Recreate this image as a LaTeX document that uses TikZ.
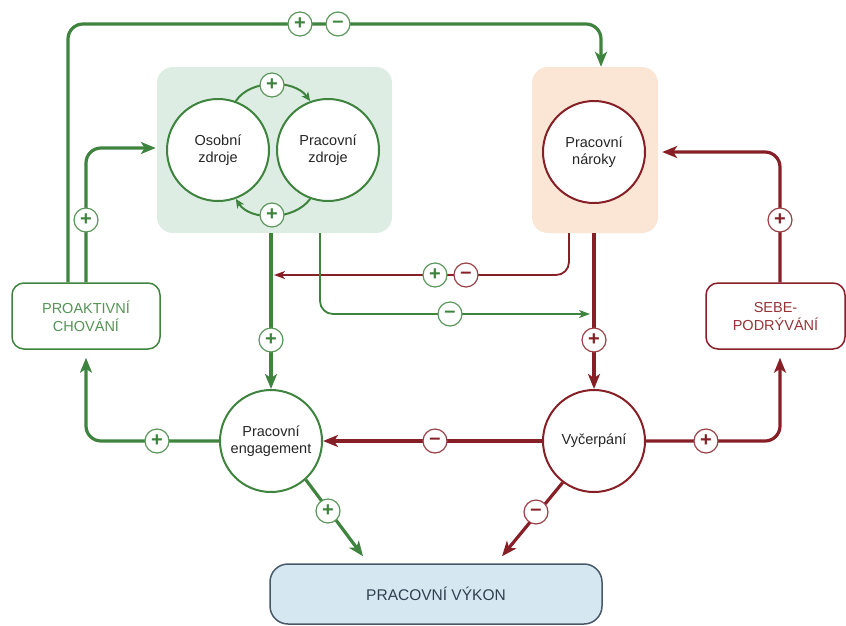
\documentclass[tikz,border=0pt]{standalone}
\usepackage{fontspec}
\setmainfont{Liberation Sans}
\usetikzlibrary{arrows.meta,calc}
\definecolor{gr}{RGB}{62,132,62}
\definecolor{grt}{RGB}{84,148,84}
\definecolor{rd}{RGB}{135,32,38}
\definecolor{rdt}{RGB}{150,52,56}
\definecolor{gfill}{RGB}{221,237,227}
\definecolor{ofill}{RGB}{251,229,212}
\definecolor{bfill}{RGB}{213,232,242}
\definecolor{bdraw}{RGB}{72,88,104}
\definecolor{btext}{RGB}{48,62,78}
\begin{document}
\begin{tikzpicture}[x=1pt,y=-1pt,
  circ/.style={circle, draw, fill=white, minimum size=102pt, inner sep=0pt, line width=2pt,
    align=center, font=\fontsize{14.5}{17.5}\selectfont, text=black!85},
  sgn/.style={circle, draw=#1!85, text=#1, fill=white, minimum size=24pt, inner sep=0pt, line width=1.2pt,
    font=\fontsize{20}{20}\selectfont\bfseries},
  lbox/.style={rectangle, rounded corners=12pt, draw, fill=white, line width=1.5pt,
    align=center, font=\fontsize{14.5}{18}\selectfont},
  thickline/.style={line width=3.2pt, rounded corners=15pt},
  thinline/.style={line width=1.8pt, rounded corners=13pt},
  bigtip/.style={-{Stealth[length=15pt,width=12pt,inset=4pt]}},
  smalltip/.style={-{Stealth[length=11pt,width=8pt,inset=3pt]}},
  arctip/.style={-{Stealth[length=9pt,width=8pt,inset=2.5pt]}}
]
\useasboundingbox (0,0) rectangle (846,625);

% boxes
\node[rectangle, rounded corners=16pt, fill=gfill, minimum width=235pt, minimum height=166pt] (rbox) at (274.5,150) {};
\node[rectangle, rounded corners=16pt, fill=ofill, minimum width=126pt, minimum height=166pt] (dbox) at (595,150) {};
\node[circ, draw=gr] (osz) at (218,150) {Osobní\\zdroje};
\node[circ, draw=gr] (pz) at (328,150) {Pracovní\\zdroje};
\node[circ, draw=rd] (pn) at (594,152) {Pracovní\\nároky};
\node[circ, draw=gr] (eng) at (271,441) {Pracovní\\engagement};
\node[circ, draw=rd] (vyc) at (594,441) {Vyčerpání};
\node[lbox, draw=gr, text=grt, minimum width=148pt, minimum height=66pt] (pro) at (86,316) {PROAKTIVNÍ\\CHOVÁNÍ};
\node[lbox, draw=rd, text=rdt, minimum width=139pt, minimum height=66pt] (sebe) at (775.5,316) {SEBE-\\PODRÝVÁNÍ};
\node[rectangle, rounded corners=18pt, draw=bdraw, fill=bfill, line width=1.5pt, text=btext,
  minimum width=332pt, minimum height=60pt, font=\fontsize{15.5}{18}\selectfont] (vykon) at (436,594) {PRACOVNÍ VÝKON};

\coordinate (gtarget) at (590,314);
\coordinate (rtarget) at (274,275);

% connectors
\draw[gr, thickline, bigtip] ([xshift=-18pt]pro.north) |- (601,24) -- ([xshift=6pt]dbox.north);
\draw[gr, thickline, bigtip] (pro.north) |- ([xshift=-1pt]rbox.west |- 0,148);
\draw[gr, line width=2pt, arctip] (osz.70) .. controls (250,79) and (294,79) .. (pz.110);
\draw[gr, line width=2pt, arctip] (pz.250) .. controls (294,221) and (250,221) .. (osz.290);
\draw[gr, thickline, bigtip] (rbox.south -| eng.north) -- (eng.north);
\draw[rd, thinline, smalltip] ([xshift=-26pt]dbox.south) |- (rtarget);
\draw[gr, thinline, smalltip] ([xshift=45.5pt]rbox.south) |- (gtarget);
\draw[rd, thickline, bigtip] (dbox.south -| vyc.north) -- (vyc.north);
\draw[rd, thickline, bigtip] (vyc.west) -- (eng.east);
\draw[gr, thickline, bigtip] (eng.west) -| ([yshift=-8pt]pro.south);
\draw[rd, thickline, bigtip] (vyc.east) -| ([xshift=4.5pt, yshift=-8pt]sebe.south);
\draw[rd, thickline, bigtip] ([xshift=4.5pt]sebe.north) |- ([xshift=4pt]dbox.east |- pn.center);
\draw[gr, thickline, bigtip] (eng.-48) -- ([xshift=-73pt, yshift=7pt]vykon.north);
\draw[rd, thickline, bigtip] (vyc.233) -- ([xshift=66pt, yshift=7pt]vykon.north);

% signs
\node[sgn=gr] (s1) at (300,24) {+};
\node[sgn=gr] (s2) at (338,24) {–};
\node[sgn=gr] (s3) at (86,220) {+};
\node[sgn=gr] (s4) at (272,85) {+};
\node[sgn=gr] (s5) at (272,215) {+};
\node[sgn=gr] (s6) at (271,340) {+};
\node[sgn=gr] (s7) at (435,275) {+};
\node[sgn=rd] (s8) at (466,275) {–};
\node[sgn=gr] (s9) at (450,314) {–};
\node[sgn=rd] (s10) at (594,340) {+};
\node[sgn=rd] (s11) at (780,220) {+};
\node[sgn=gr] (s12) at (157,441) {+};
\node[sgn=rd] (s13) at (435,441) {–};
\node[sgn=rd] (s14) at (706,441) {+};
\node[sgn=gr] (s15) at (328,511) {+};
\node[sgn=rd] (s16) at (536,512) {–};
\end{tikzpicture}
\end{document}
